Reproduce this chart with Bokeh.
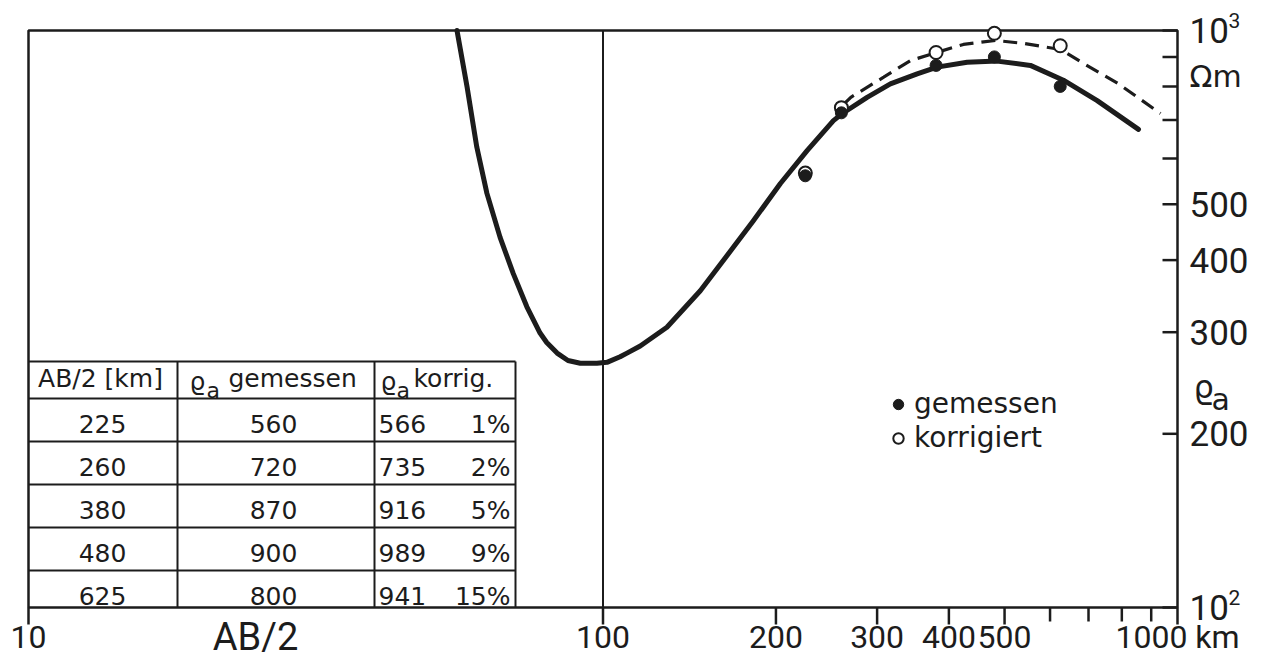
from bokeh.plotting import figure
from bokeh.models import Range1d, LinearScale, Legend, LegendItem
from bokeh.core.properties import value
from bokeh.embed import file_html
from bokeh.resources import INLINE

# ---------------- data ----------------
ab2_km = [225, 260, 380, 480, 625]
rho_gemessen = [560, 720, 870, 900, 800]
rho_korrigiert = [566, 735, 916, 989, 941]
korrektur_prozent = [1, 2, 5, 9, 15]

# model curve (solid)
curve_x = [55.7, 58.0, 60.3, 62.8, 66.2, 69.8, 73.7, 77.7, 79.8, 83.2, 86.9, 91.3,
           97.6, 101.6, 107.1, 110.1, 116.1, 129.2, 147.7, 168.6, 182.7, 203.6,
           226.6, 251.8, 261.0, 288.2, 316.4, 352.2, 381.5, 430.4, 485.3, 554.6,
           633.0, 724.8, 855.2]
curve_y = [1000, 798, 628, 522, 438, 379, 332, 299, 288, 276, 268, 265,
           265, 266, 272, 276, 284, 306, 354, 421, 468, 543,
           619, 698, 718, 766, 808, 841, 864, 881, 885, 870,
           820, 756, 674]

# corrected curve (dashed)
dash_x = [262, 270, 308, 343, 382, 424, 482, 539, 626, 686, 787, 934]
dash_y = [744, 766, 830, 887, 917, 946, 961, 950, 927, 877, 810, 718]

x_ticks = [10, 100, 200, 300, 400, 500, 600, 700, 800, 900, 1000]
x_tick_labels = ["10", "100", "200", "300", "400", "500", "", "", "", "", "1000 km"]
y_ticks = [100, 200, 300, 400, 500, 600, 700, 800, 900, 1000]
y_tick_labels = ["10", "200", "300", "400", "500", "", "", "", "", "10"]
y_decades = [100, 1000]
y_exponents = ["2", "3"]

table_head = ["AB/2 [km]", "gemessen", "korrig."]
legend_labels = ["gemessen", "korrigiert"]

# ---------------- layout / style ----------------
INK = "#1c1c1c"
W, H = 1268, 664
FL, FR, FT, FB = 28, 1177, 30, 607          # drawn box
DX = (FR - FL) / 2.0                         # px per decade (x)
DY = (FB - FT) / 1.0                         # px per decade (y)
AXF = "Roboto"
SANS = "DejaVu Sans"

p = figure(width=W, height=H, x_axis_type="log", y_axis_type="log",
           x_range=Range1d(10 ** (1 - FL / DX), 10 ** (1 + (W - FL) / DX)),
           y_range=Range1d(10 ** (2 - (H - FB) / DY), 10 ** (3 + FT / DY)),
           x_axis_location=None, y_axis_location=None,
           min_border=0, toolbar_location=None, output_backend="svg")
p.grid.visible = False
p.outline_line_color = None
p.background_fill_color = "white"
p.border_fill_color = "white"

# linear pixel-like helper ranges (canvas coordinates, y downward)
p.extra_x_ranges = {"px": Range1d(0, W)}
p.extra_x_scales = {"px": LinearScale()}
p.extra_y_ranges = {"px": Range1d(H, 0)}
p.extra_y_scales = {"px": LinearScale()}

PX = dict(x_range_name="px", y_range_name="px")

# box
p.quad(left=[FL], right=[FR], top=[FT], bottom=[FB], fill_color=None,
       line_color=INK, line_width=2.5, **PX)

# bottom ticks + labels
nx = len(x_ticks)
tick_len = [17 if lab else 14 for lab in x_tick_labels]
p.segment(x0=x_ticks, x1=x_ticks, y0=[FB] * nx, y1=[FB + t for t in tick_len],
          line_color=INK, line_width=2.5, y_range_name="px")
p.text(x=x_ticks, y=[636] * nx, text=x_tick_labels, y_range_name="px",
       text_align="center", text_baseline="middle", text_color=INK,
       text_font=value(AXF), text_font_size="32px")

# right ticks + labels
ny = len(y_ticks)
p.segment(x0=[FR - 15] * ny, x1=[FR] * ny, y0=y_ticks, y1=y_ticks,
          line_color=INK, line_width=2.5, x_range_name="px")
p.text(x=[FR + 12] * ny, y=y_ticks, text=y_tick_labels, x_range_name="px",
       text_align="left", text_baseline="middle", text_color=INK,
       text_font=value(AXF), text_font_size="35px")
p.text(x=[FR + 51] * len(y_decades), y=y_decades, text=y_exponents, x_range_name="px",
       y_offset=-10, text_align="left", text_baseline="middle", text_color=INK,
       text_font=value(AXF), text_font_size="21px")

# vertical line at AB/2 = 100 km
p.segment(x0=[100], x1=[100], y0=[FT], y1=[FB], line_color=INK, line_width=2,
          y_range_name="px")

# curves
p.line(curve_x, curve_y, line_color=INK, line_width=5, line_join="round", line_cap="round")
p.line(dash_x, dash_y, line_color=INK, line_width=3.2, line_dash="14 8")

# points
r_k = p.scatter(ab2_km, rho_korrigiert, marker="circle", size=13,
                fill_color="white", line_color=INK, line_width=2)
r_g = p.scatter(ab2_km, rho_gemessen, marker="circle", size=12,
                fill_color=INK, line_color=INK)

legend = Legend(items=[LegendItem(label=legend_labels[0], renderers=[r_g]),
                       LegendItem(label=legend_labels[1], renderers=[r_k])],
                location=(885, 210), border_line_color=None,
                background_fill_alpha=0, label_text_font=SANS,
                label_text_font_size="28px", label_text_color=INK,
                glyph_width=26, glyph_height=26, spacing=1, padding=0,
                margin=0, label_standoff=3)
p.add_layout(legend)

# ---------------- table ----------------
col_edges = [FL, 177, 374, 515]
t_top, head_bot, row_h = 361, 398, 43
row_tops = [head_bot + k * row_h for k in range(len(ab2_km))]
h_lines = [t_top] + row_tops
xs = [[FL, col_edges[-1]] for _ in h_lines] + [[c, c] for c in col_edges[1:]]
ys = [[y, y] for y in h_lines] + [[t_top, FB] for _ in col_edges[1:]]
p.multi_line(xs, ys, line_color=INK, line_width=2, **PX)

tk = dict(text_color=INK, text_font=value(SANS), text_font_size="25px",
          text_baseline="middle", **PX)
mid = [t + 25.5 for t in row_tops]
p.text(x=[102] * len(ab2_km), y=mid, text=[str(v) for v in ab2_km],
       text_align="center", **tk)
p.text(x=[273] * len(ab2_km), y=mid, text=[str(v) for v in rho_gemessen],
       text_align="center", **tk)
p.text(x=[378] * len(ab2_km), y=mid, text=[str(v) for v in rho_korrigiert],
       text_align="left", **tk)
p.text(x=[510] * len(ab2_km), y=mid, text=[f"{v}%" for v in korrektur_prozent],
       text_align="right", **tk)

# header
p.text(x=[100], y=[378], text=[table_head[0]], text_align="center", **tk)
p.text(x=[189, 380], y=[381, 381], text=["\u03f1", "\u03f1"], text_align="left", **tk)
tk_sub = dict(tk)
tk_sub["text_font_size"] = "22px"
p.text(x=[206, 396], y=[390, 390], text=["a", "a"], text_align="left", **tk_sub)
p.text(x=[228, 413], y=[378, 378], text=[table_head[1], table_head[2]],
       text_align="left", **tk)

# ---------------- outer texts ----------------
ot = dict(text_color=INK, text_baseline="middle", text_align="left", **PX)
p.text(x=[255], y=[636], text=["AB/2"], text_font=value(AXF), text_font_size="38px",
       **{**ot, "text_align": "center"})
p.text(x=[1189], y=[76], text=["\u03a9m"], text_font=value(SANS),
       text_font_size="30px", **ot)
p.text(x=[1193], y=[386], text=["\u03f1"], text_font=value(SANS),
       text_font_size="32px", **ot)
p.text(x=[1211], y=[399], text=["a"], text_font=value(SANS),
       text_font_size="30px", **ot)

open("out.html", "w").write(file_html(p, INLINE))
